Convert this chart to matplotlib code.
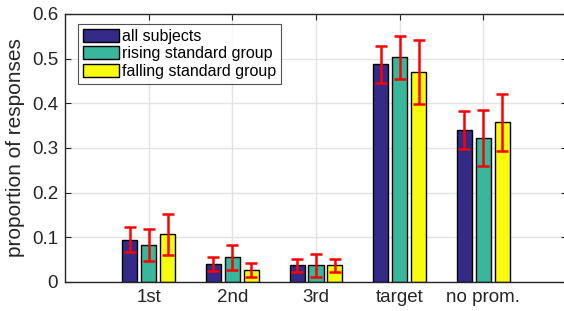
import numpy as np
import matplotlib
matplotlib.use('Agg')
import matplotlib.pyplot as plt

plt.rcParams['font.family'] = ['Liberation Sans', 'DejaVu Sans']

categories = ['1st', '2nd', '3rd', 'target', 'no prom.']
groups = ['all subjects', 'rising standard group', 'falling standard group']

# mean proportions per group
all_subjects = [0.095, 0.040, 0.037, 0.487, 0.340]
rising = [0.082, 0.055, 0.037, 0.503, 0.322]
falling = [0.107, 0.027, 0.037, 0.470, 0.358]

# error bar half widths
all_err = [0.028, 0.016, 0.014, 0.042, 0.043]
rising_err = [0.036, 0.028, 0.025, 0.048, 0.062]
falling_err = [0.046, 0.016, 0.014, 0.071, 0.064]

colors = ['#352A87', '#38B79C', '#F9FB0E']

fig = plt.figure(figsize=(5.64, 3.11), dpi=100)
ax = fig.add_axes([65 / 564, 29 / 311, 502 / 564, 268 / 311])

x = np.arange(1, len(categories) + 1)
offsets = [-0.226, 0.0, 0.226]
width = 0.18
series = [all_subjects, rising, falling]
errs = [all_err, rising_err, falling_err]

for vals, err, off, col, name in zip(series, errs, offsets, colors, groups):
    ax.bar(x + off, vals, width, color=col, edgecolor='black', linewidth=1.0,
           label=name, zorder=2)
    ax.errorbar(x + off, vals, yerr=err, fmt='none', ecolor='#FF0000',
                elinewidth=1.8, capsize=4, capthick=1.8, zorder=3)

ax.set_xlim(0, 6)
ax.set_ylim(0, 0.6)
ax.set_xticks(x)
ax.set_xticklabels(categories)
ax.set_yticks([0, 0.1, 0.2, 0.3, 0.4, 0.5, 0.6])
ax.set_yticklabels(['0', '0.1', '0.2', '0.3', '0.4', '0.5', '0.6'])
ax.set_ylabel('proportion of responses', fontsize=15, color='#262626', labelpad=5)

ax.grid(True, color='#E3E3E3', linewidth=1.0, zorder=0)
ax.set_axisbelow(True)
ax.tick_params(direction='in', length=4, colors='#262626', labelsize=13.5,
               top=True, right=True, pad=5)
for s in ax.spines.values():
    s.set_color('#262626')
    s.set_linewidth(1.0)

leg = ax.legend(loc='upper left', bbox_to_anchor=(0.02, 0.975), fontsize=11.5,
                frameon=True, fancybox=False, edgecolor='#262626',
                handlelength=2.25, handleheight=0.9, handletextpad=0.18,
                labelspacing=0.15, borderpad=0.3, borderaxespad=0.2)
leg.get_frame().set_linewidth(0.8)

fig.savefig('out.png', dpi=100)
